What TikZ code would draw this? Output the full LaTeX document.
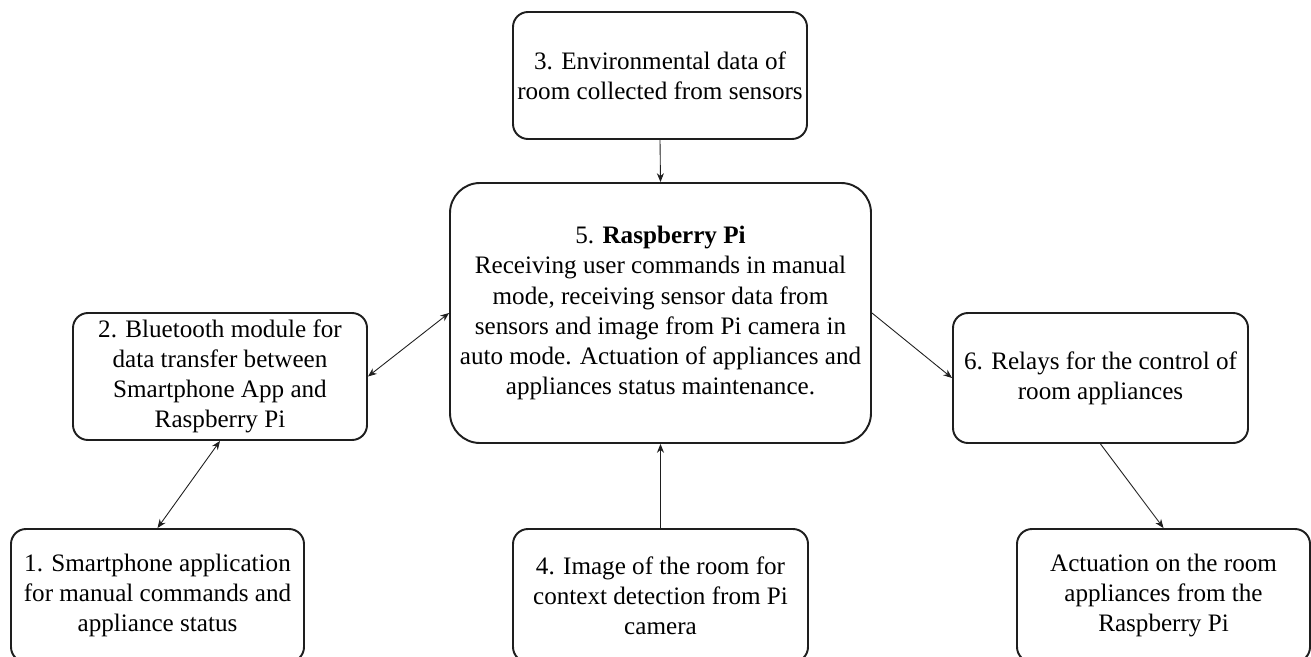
\documentclass[tikz,border=0pt]{standalone}
\usepackage{fontspec}
\setmainfont{Liberation Serif}
\usepackage{xcolor}
\usepackage{tikz}
\usetikzlibrary{arrows.meta,positioning}
\definecolor{edgecol}{HTML}{1E1E1E}

\begin{document}
\begin{tikzpicture}[font=\fontsize{14.3}{17.1}\selectfont,
  box/.style={draw=edgecol,line width=1.1pt,rounded corners=0.3cm,
              minimum width=5.88cm,minimum height=2.54cm,align=center,inner sep=2pt},
  bigbox/.style={box,rounded corners=0.6cm,minimum width=8.42cm,minimum height=5.2cm},
  arr/.style={draw=edgecol,line width=0.5pt,-{Stealth[length=5pt,width=4pt]}},
  biarr/.style={arr,{Stealth[length=5pt,width=4pt]}-{Stealth[length=5pt,width=4pt]}},
]
\path[use as bounding box,clip] (0,0) rectangle (26.22,-13.14);

% ---------- top and centre ----------
\node[box] (sensors) at (13.20,-1.51)
  {3. Environmental data of\\room collected from sensors};
\node[bigbox] (rpi) at (13.21,-6.26)
  {5. \textbf{Raspberry Pi}\\Receiving user commands in manual\\mode, receiving sensor data from\\
   sensors and image from Pi camera in\\auto mode. Actuation of appliances and\\
   appliances status maintenance.};

% ---------- left side ----------
\node[box] (bluetooth) at (4.40,-7.53)
  {2. Bluetooth module for\\data transfer between\\Smartphone App and\\Raspberry Pi};
\node[box,minimum width=5.86cm,minimum height=2.66cm] (phone) at (3.15,-11.91)
  {1. Smartphone application\\for manual commands and\\appliance status};

% ---------- bottom centre ----------
\node[box,minimum width=5.9cm,minimum height=2.66cm] (camera) at (13.21,-11.91)
  {4. Image of the room for\\context detection from Pi\\camera};

% ---------- right side ----------
\node[box,minimum width=5.9cm,minimum height=2.6cm] (relays) at (22.01,-7.56)
  {6. Relays for the control of\\room appliances};
\node[box,minimum width=5.86cm,minimum height=2.66cm] (appl) at (23.27,-11.91)
  {Actuation on the room\\appliances from the\\Raspberry Pi};

% ---------- connectors ----------
\draw[arr] (sensors.south) -- (rpi.north);
\draw[arr] (camera.north) -- (rpi.south);
\draw[biarr] (bluetooth.east) -- (rpi.west);
\draw[biarr] (phone.north) -- (bluetooth.south);
\draw[arr] (rpi.east) -- (relays.west);
\draw[arr] (relays.south) -- (appl.north);
\end{tikzpicture}
\end{document}
